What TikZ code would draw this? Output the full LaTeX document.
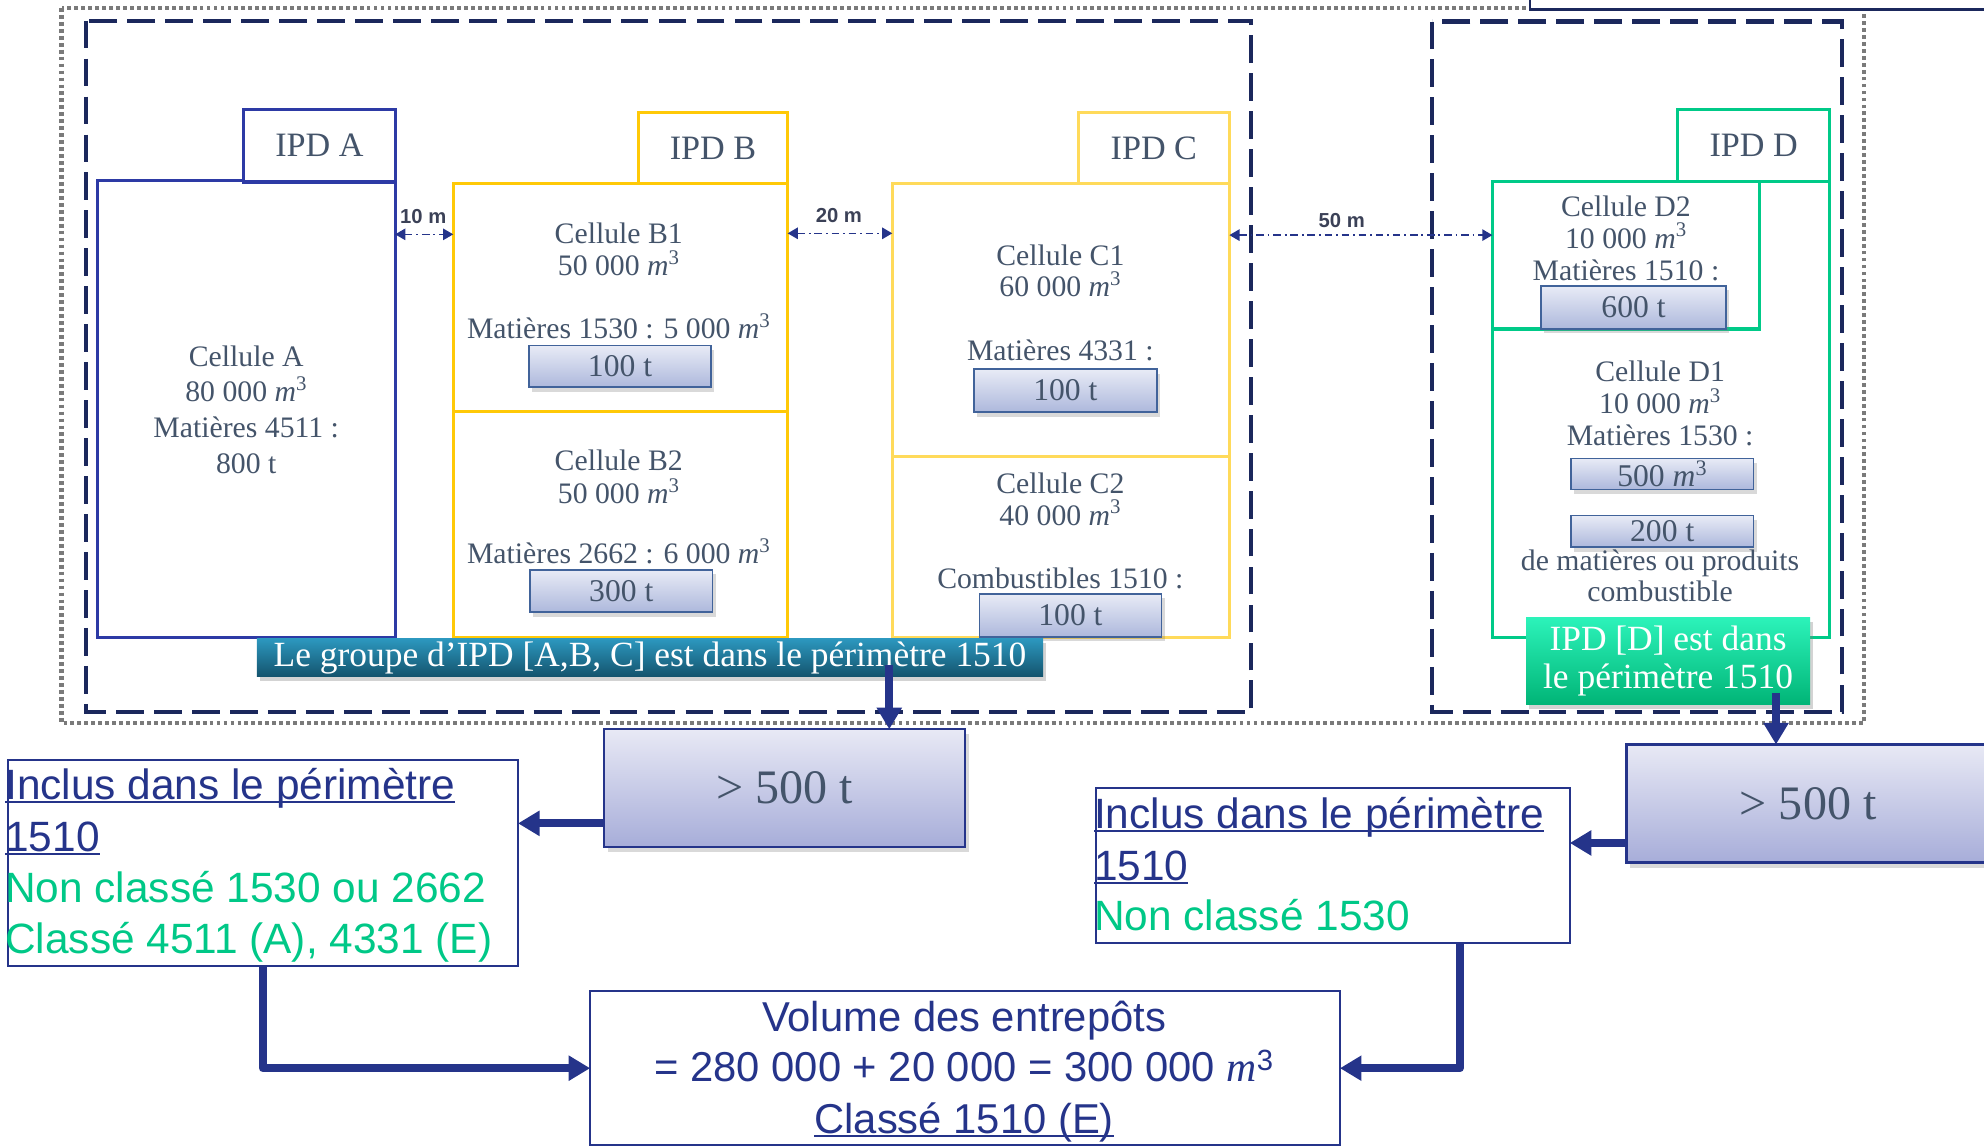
\documentclass[tikz,border=0pt]{standalone}
\usepackage{fontspec}
\setmainfont{Liberation Serif}
\setsansfont{Liberation Sans}
\usetikzlibrary{arrows.meta,shadows,calc}
\definecolor{txtgray}{HTML}{44546A}
\definecolor{navy}{HTML}{25348A}
\definecolor{dashnavy}{HTML}{1B285C}
\definecolor{dotgray}{HTML}{7A7A7A}
\definecolor{blueA}{HTML}{2D3AA5}
\definecolor{yellowB}{HTML}{FFC907}
\definecolor{yellowC}{HTML}{FFDA5A}
\definecolor{greenD}{HTML}{00CA88}
\definecolor{greentxt}{HTML}{00C887}
\definecolor{vbtop}{HTML}{E8EBF6}
\definecolor{vbbot}{HTML}{ADB8DC}
\definecolor{vbline}{HTML}{41639A}
\definecolor{gttop}{HTML}{E8E9F5}
\definecolor{gtbot}{HTML}{A7ADD9}
\definecolor{tealtop}{HTML}{2C97BE}
\definecolor{tealbot}{HTML}{14546E}
\definecolor{grtop}{HTML}{2CF3BA}
\definecolor{grbot}{HTML}{00B476}
\definecolor{dimtxt}{HTML}{3B4157}
\newcommand\ulin[2][navy]{\setbox0\hbox{#2}\rlap{\color{#1}\rule[-2.8pt]{\wd0}{1.5pt}}\box0}
\newcommand\mcube{{\rmfamily\itshape m}\textsuperscript{3}}
\begin{document}
\begin{tikzpicture}[x=1pt,y=-1pt,
  cellbox/.style={draw, line width=2.6pt, inner sep=0pt, outer sep=0pt},
  tabbox/.style={cellbox, fill=white, text=txtgray, font=\fontsize{27}{30}\selectfont},
  celltxt/.style={text=txtgray, font=\fontsize{23.5}{25}\selectfont, anchor=base, inner sep=0pt},
  valbox/.style={draw=vbline, line width=1.3pt, top color=vbtop, bottom color=vbbot, inner sep=0pt, outer sep=0pt,
    text=txtgray, font=\fontsize{25}{27}\selectfont,
    drop shadow={shadow xshift=2.5pt, shadow yshift=-3.5pt, opacity=0.3}},
  gtbox/.style={draw=navy, line width=2pt, top color=gttop, bottom color=gtbot, inner sep=0pt, outer sep=0pt,
    text=txtgray, font=\fontsize{38}{40}\selectfont,
    drop shadow={shadow xshift=3pt, shadow yshift=-4pt, opacity=0.3}},
  bannerbox/.style={inner sep=0pt, outer sep=0pt, text=white, font=\fontsize{28}{30.3}\selectfont,
    drop shadow={shadow xshift=2.5pt, shadow yshift=-3.5pt, opacity=0.35}},
  infobox/.style={draw=navy, line width=1.6pt, fill=white, inner sep=0pt, outer sep=0pt},
  infotxt/.style={font=\sffamily\fontsize{33.5}{40}\selectfont, inner sep=0pt, anchor=base west},
  voltxt/.style={font=\sffamily\fontsize{33}{40}\selectfont, inner sep=0pt, anchor=base, text=navy},
  dimarrow/.style={draw=navy, line width=1.2pt, dash pattern=on 6pt off 3pt on 1.5pt off 3pt,
    {Triangle[width=9pt,length=8pt]}-{Triangle[width=9pt,length=8pt]}},
  dimlbl/.style={text=dimtxt, font=\sffamily\bfseries\fontsize{16}{17}\selectfont, inner sep=0pt},
  bigarrow/.style={draw=navy, line width=6.5pt, line join=round, -{Triangle[width=19pt,length=17pt]}}
]
\useasboundingbox (0,0) rectangle (1568,906);

% frames
\draw[dotgray, line width=3.6pt, dash pattern=on 3pt off 2.5pt] (48.7,6.3) rectangle (1473,571.3);
\draw[dashnavy, line width=3.2pt, dash pattern=on 22pt off 8pt] (68.1,16.3) rectangle (989,562.6);
\draw[dashnavy, line width=3.2pt, dash pattern=on 22pt off 8pt] (1132,17) rectangle (1456,563);
\node[draw=dashnavy, line width=1.8pt, fill=white, minimum width=391pt, minimum height=27.4pt, inner sep=0pt] (tr) at (1404.5,-6.3) {};

% IPD A
\node[cellbox, draw=blueA, minimum width=235.4pt, minimum height=361pt] (cA) at (194.6,323.3) {};
\node[tabbox, draw=blueA, minimum width=119.6pt, minimum height=57.5pt] (tA) at (252.5,115.15) {IPD A};
\node[celltxt] (a1) at (194.6,290) {Cellule A};
\node[celltxt] (a2) at (194.6,317.5) {80 000 \mcube};
\node[celltxt] (a3) at (194.6,346) {Matières 4511 :};
\node[celltxt] (a4) at (194.6,374.5) {800 t};

% IPD B
\node[cellbox, draw=yellowB, minimum width=264.3pt, minimum height=180.1pt] (cB1) at (490.35,234.95) {};
\node[cellbox, draw=yellowB, minimum width=264.3pt, minimum height=178.6pt] (cB2) at (490.35,414.3) {};
\node[tabbox, draw=yellowB, minimum width=118.1pt, minimum height=55.9pt] (tB) at (563.45,116.95) {IPD B};
\node[celltxt] (b11) at (489,192.5) {Cellule B1};
\node[celltxt] (b12) at (489,218) {50 000 \mcube};
\node[celltxt] (b13) at (489,267.5) {Matières 1530 : 5 000 \mcube};
\node[valbox, minimum width=144pt, minimum height=33pt] (vb1) at (490,289.5) {100 t};
\node[celltxt] (b21) at (489,372) {Cellule B2};
\node[celltxt] (b22) at (489,398) {50 000 \mcube};
\node[celltxt] (b23) at (489,445.5) {Matières 2662 : 6 000 \mcube};
\node[valbox, minimum width=144pt, minimum height=33.5pt] (vb2) at (491,467) {300 t};

% IPD C
\node[cellbox, draw=yellowC, minimum width=266.4pt, minimum height=216.1pt] (cC1) at (838.4,252.95) {};
\node[cellbox, draw=yellowC, minimum width=266.4pt, minimum height=142.8pt] (cC2) at (838.4,432.4) {};
\node[tabbox, draw=yellowC, minimum width=119.4pt, minimum height=55.9pt] (tC) at (911.9,116.95) {IPD C};
\node[celltxt] (c11) at (838,209.5) {Cellule C1};
\node[celltxt] (c12) at (838,234.5) {60 000 \mcube};
\node[celltxt] (c13) at (838,284.6) {Matières 4331 :};
\node[valbox, minimum width=144.6pt, minimum height=34pt] (vc1) at (842,308.7) {100 t};
\node[celltxt] (c21) at (838,390) {Cellule C2};
\node[celltxt] (c22) at (838,415) {40 000 \mcube};
\node[celltxt] (c23) at (838,465) {Combustibles 1510 :};
\node[valbox, minimum width=144pt, minimum height=34pt] (vc2) at (846,486.3) {100 t};

% IPD D
\node[cellbox, draw=greenD, minimum width=266.5pt, minimum height=360pt] (cD) at (1312.75,323.6) {};
\node[cellbox, draw=greenD, minimum width=211pt, minimum height=116.4pt] (cD2) at (1285,201.8) {};
\node[tabbox, draw=greenD, minimum width=120pt, minimum height=57.2pt] (tD) at (1386,115) {IPD D};
\node[celltxt] (d21) at (1285,171.3) {Cellule D2};
\node[celltxt] (d22) at (1285,196.3) {10 000 \mcube};
\node[celltxt] (d23) at (1285,221.3) {Matières 1510 :};
\node[valbox, minimum width=146pt, minimum height=34pt] (vd2) at (1291,243) {600 t};
\node[celltxt] (d11) at (1312,301.7) {Cellule D1};
\node[celltxt] (d12) at (1312,326.8) {10 000 \mcube};
\node[celltxt] (d13) at (1312,351.8) {Matières 1530 :};
\node[valbox, minimum width=144.5pt, minimum height=24.5pt] (vd1a) at (1313.7,374.5) {500 \mcube};
\node[valbox, minimum width=144.5pt, minimum height=25pt] (vd1b) at (1313.7,420) {200 t};
\node[celltxt] (d14) at (1312,450.6) {de matières ou produits};
\node[celltxt] (d15) at (1312,475.6) {combustible};

% banners
\node[bannerbox, top color=tealtop, bottom color=tealbot, minimum width=621.5pt, minimum height=29.4pt] (grpABC) at (513.7,519.7) {Le groupe d’IPD [A,B, C] est dans le périmètre 1510};
\node[bannerbox, top color=grtop, bottom color=grbot, minimum width=224.5pt, minimum height=69.3pt, align=center] (grpD) at (1318.3,522.5) {IPD [D] est dans\\le périmètre 1510};

% distances
\coordinate (y1) at (0,185.2);
\coordinate (y2) at (0,184.4);
\coordinate (y3) at (0,185.8);
\draw[dimarrow] (cA.east |- y1) -- (cB1.west |- y1);
\draw[dimarrow] (cB1.east |- y2) -- (cC1.west |- y2);
\draw[dimarrow] (cC1.east |- y3) -- (cD.west |- y3);
\node[dimlbl] (l10) at (334.5,171.3) {10 m};
\node[dimlbl] (l20) at (663,170) {20 m};
\node[dimlbl] (l50) at (1060.4,174) {50 m};

% lower boxes
\node[gtbox, minimum width=285.4pt, minimum height=93pt] (gt1) at (620,622.8) {> 500 t};
\node[gtbox, minimum width=287pt, minimum height=93.3pt] (gt2) at (1429,635) {> 500 t};

\node[infobox, minimum width=403.4pt, minimum height=163.1pt] (inc1) at (207.7,681.9) {};
\node[infotxt, text=navy] (i11) at (4,632) {\ulin{Inclus dans le périmètre}};
\node[infotxt, text=navy] (i12) at (4,673) {\ulin{1510}};
\node[infotxt, text=greentxt] (i13) at (4,713) {Non classé 1530 ou 2662};
\node[infotxt, text=greentxt] (i14) at (4,753.5) {Classé 4511 (A), 4331 (E)};

\node[infobox, minimum width=374.3pt, minimum height=122.8pt] (inc2) at (1053.5,684.1) {};
\node[infotxt, text=navy] (i21) at (864.5,654.8) {\ulin{Inclus dans le périmètre}};
\node[infotxt, text=navy] (i22) at (864.5,695.5) {\ulin{1510}};
\node[infotxt, text=greentxt] (i23) at (864.5,735.2) {Non classé 1530};

\node[infobox, minimum width=592.6pt, minimum height=121.5pt] (vol) at (762.7,844.2) {};
\node[voltxt] (v1) at (762,815.5) {Volume des entrepôts};
\node[voltxt] (v2) at (762,855) {= 280 000 + 20 000 = 300 000 \mcube};
\node[voltxt] (v3) at (762,895.9) {\ulin{Classé 1510 (E)}};

% arrows
\coordinate (a1s) at (702.8,525.7);
\coordinate (a2s) at (1403.6,548);
\draw[bigarrow] (a1s) -- (a1s |- gt1.north);
\draw[bigarrow] (a2s) -- (a2s |- gt2.north);
\coordinate (h1) at (0,650.7);
\coordinate (h2) at (0,666.2);
\draw[bigarrow] (gt1.west |- h1) -- (inc1.east |- h1);
\draw[bigarrow] (gt2.west |- h2) -- (inc2.east |- h2);
\draw[bigarrow] (inc1.south) |- (vol.west);
\coordinate (xv2) at (1153.8,0);
\draw[bigarrow] (xv2 |- inc2.south) |- (vol.east);
\end{tikzpicture}
\end{document}
